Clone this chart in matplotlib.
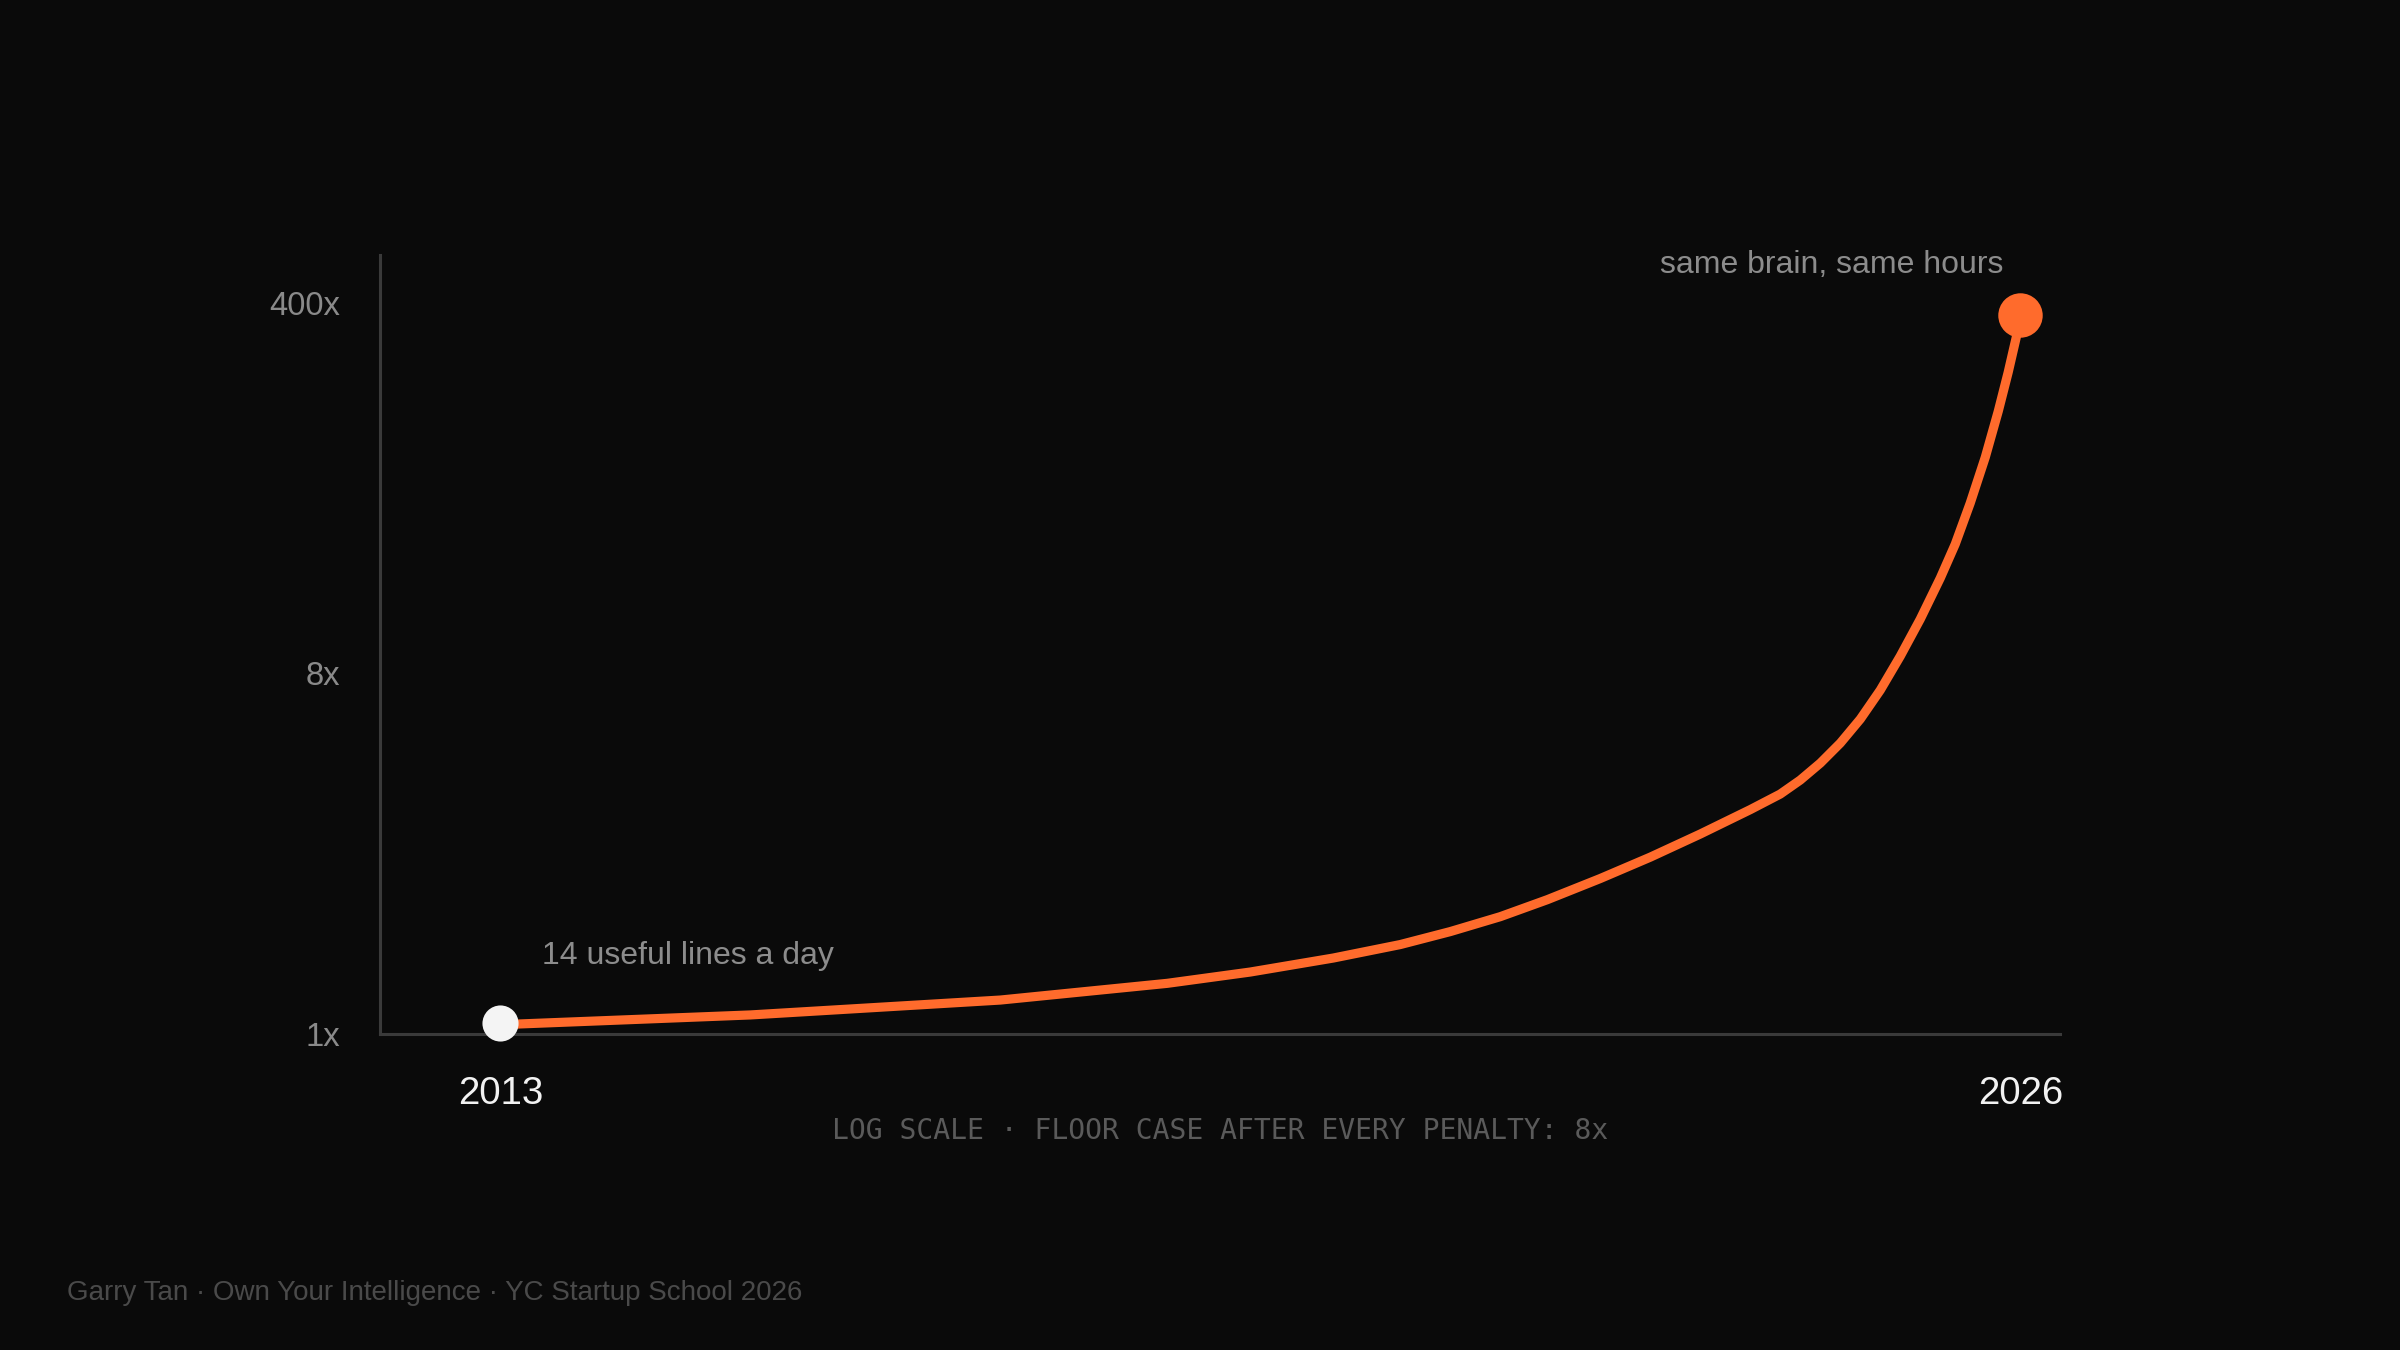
import numpy as np
import matplotlib
matplotlib.use("Agg")
import matplotlib.pyplot as plt
from matplotlib.ticker import FixedLocator, FixedFormatter

# ---- data ----
years = [2013.000, 2013.145, 2015.138, 2017.276, 2018.705, 2019.414, 2020.124, 2020.697,
         2021.125, 2021.553, 2021.955, 2022.408, 2022.836, 2023.263, 2023.691, 2023.947,
         2024.118, 2024.290, 2024.461, 2024.632, 2024.803, 2024.974, 2025.145, 2025.316,
         2025.444, 2025.572, 2025.701, 2025.812, 2025.897, 2025.966, 2026.000]
multiplier = [1.065, 1.059, 1.116, 1.216, 1.339, 1.429, 1.549, 1.674,
              1.804, 1.966, 2.168, 2.449, 2.770, 3.164, 3.642, 3.983,
              4.317, 4.761, 5.343, 6.134, 7.249, 9.564, 14.15, 21.83,
              31.27, 48.25, 78.47, 127.6, 192.8, 279.2, 352.3]
start_year, start_value = 2013, 1.065
end_year, end_value = 2026, 352.3
y_ticks = [1, 8, 400]
y_tick_labels = ["1x", "8x", "400x"]
x_ticks = [2013, 2026]
x_tick_labels = ["2013", "2026"]
start_label = "14 useful lines a day"
end_label = "same brain, same hours"
subtitle = "LOG SCALE \u00b7 FLOOR CASE AFTER EVERY PENALTY: 8x"
footer = "Garry Tan \u00b7 Own Your Intelligence \u00b7 YC Startup School 2026"

# ---- styles ----
BG = "#0a0a0a"
ORANGE = "#ff6b2c"
SANS = ["Liberation Sans", "DejaVu Sans"]

# axis scale: log-like with labelled stops placed at fixed fractions
L8, L400, P8 = np.log10(8), np.log10(400), 0.494

def fwd(v):
    l = np.log10(np.clip(np.asarray(v, dtype=float), 1e-9, None))
    return np.where(l <= L8, l / L8 * P8, P8 + (l - L8) / (L400 - L8) * (1 - P8))

def inv(u):
    u = np.asarray(u, dtype=float)
    return np.where(u <= P8, 10 ** (u / P8 * L8),
                    10 ** (L8 + (u - P8) / (1 - P8) * (L400 - L8)))

fig = plt.figure(figsize=(12, 6.75), dpi=200, facecolor=BG)
ax = fig.add_axes([380 / 2400, 1 - 1034 / 1350, (2060 - 380) / 2400, (1034 - 255) / 1350])
ax.set_facecolor(BG)
ax.set_yscale("function", functions=(fwd, inv))
ax.set_xlim(2011.97, 2026.34)
ax.set_ylim(1, float(inv(1.066)))

ax.plot(years, multiplier, color=ORANGE, lw=3.3, solid_capstyle="round",
        solid_joinstyle="round", zorder=3)
ax.plot([start_year], [start_value], "o", ms=13, color="#f4f4f4", mec="none", zorder=4,
        clip_on=False)
ax.plot([end_year], [end_value], "o", ms=16, color=ORANGE, mec="none", zorder=4,
        clip_on=False)

for s in ["top", "right"]:
    ax.spines[s].set_visible(False)
for s in ["left", "bottom"]:
    ax.spines[s].set_color("#3a3a3a")
    ax.spines[s].set_linewidth(1.1)

ax.yaxis.set_major_locator(FixedLocator(y_ticks))
ax.yaxis.set_major_formatter(FixedFormatter(y_tick_labels))
ax.yaxis.set_minor_locator(FixedLocator([]))
ax.set_xticks(x_ticks)
ax.set_xticklabels(x_tick_labels)
ax.tick_params(axis="y", length=0, pad=14.5, labelsize=11.8, labelcolor="#8a8a8a")
ax.tick_params(axis="x", length=0, pad=15, labelsize=13.8, labelcolor="#f2f2f2")
for lab in ax.get_xticklabels() + ax.get_yticklabels():
    lab.set_fontfamily(SANS)

ax.annotate(start_label, xy=(start_year, start_value), xytext=(14.8, 24.2),
            textcoords="offset points", ha="left", va="center", fontsize=11.5,
            color="#8c8c8c", family=SANS)
ax.annotate(end_label, xy=(end_year, end_value), xytext=(-6.1, 18),
            textcoords="offset points", ha="right", va="center", fontsize=11.5,
            color="#8c8c8c", family=SANS)

fig.text(1220 / 2400, 1 - 1131 / 1350, subtitle, ha="center", va="center",
         fontsize=10.1, color="#5a5a5a", family=["DejaVu Sans Mono"])
fig.text(67 / 2400, 1 - 1293 / 1350, footer, ha="left", va="center",
         fontsize=10.0, color="#4a4a4a", family=SANS)

fig.savefig("out.png", dpi=200, facecolor=BG)
